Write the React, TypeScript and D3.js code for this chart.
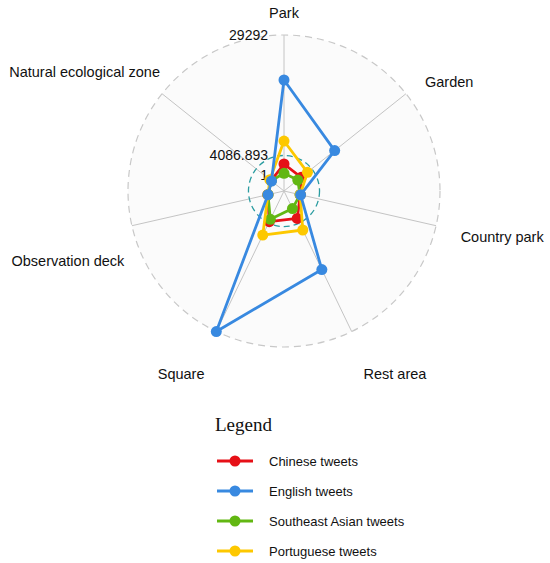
import React from 'react';
import * as d3 from 'd3';

const categories = ['Park', 'Garden', 'Country park', 'Rest area', 'Square', 'Observation deck', 'Natural ecological zone'];

const chineseTweets = [2300, 1255, 150, 3030, 3770, 120, 100];
const englishTweets = [19876, 10210, 210, 14900, 29292, 85, 1];
const southeastAsianTweets = [355, 335, 100, 730, 3240, 90, 80];
const portugueseTweets = [7110, 2930, 120, 5710, 6900, 90, 450];

const seriesNames = ['Chinese tweets', 'English tweets', 'Southeast Asian tweets', 'Portuguese tweets'];
const tickValues = [1, 4086.893, 29292];
const tickLabels = ['1', '4086.893', '29292'];
const meanValue = 4086.893;

const colors = ['#e61017', '#3889e0', '#62b712', '#fdc800'];

// nudges for category labels (dx, dy) off the base position
const labelNudge: [number, number][] = [
  [0, -4], [5, -1], [7, 7], [4, 26], [-4, 26], [10, 31], [12, -11],
];

const W = 550;
const H = 563;
const cx = 284;
const cy = 191;
const R = 156;
const R0 = 16;
const font = 'Arial, "Liberation Sans", Helvetica, sans-serif';

export default function App() {
  const data = [chineseTweets, englishTweets, southeastAsianTweets, portugueseTweets];
  const n = categories.length;

  const angle = d3.scaleLinear().domain([0, n]).range([0, 2 * Math.PI]);
  const r = d3.scaleLinear().domain([1, 29292]).range([R0, R]);

  const pt = (i: number, radius: number) => {
    const a = angle(i);
    return [cx + radius * Math.sin(a), cy - radius * Math.cos(a)];
  };

  const line = d3
    .lineRadial<number>()
    .angle((_, i) => angle(i))
    .radius((d) => r(d))
    .curve(d3.curveLinearClosed);

  // blue on top
  const drawOrder = [0, 2, 3, 1];

  return (
    <div>
      <style>{'body{margin:0}'}</style>
      <svg width={W} height={H} style={{ display: 'block', background: '#fff' }}>
        <circle cx={cx} cy={cy} r={R} fill="#fbfbfb" />
        {categories.map((c, i) => {
          const [x, y] = pt(i, R);
          return <line key={c} x1={cx} y1={cy} x2={x} y2={y} stroke="#c4c4c4" strokeWidth={1} />;
        })}
        <circle cx={cx} cy={cy} r={R} fill="none" stroke="#c8c8c8" strokeWidth={1.2} strokeDasharray="7,5" />
        <circle cx={cx} cy={cy} r={r(meanValue)} fill="none" stroke="#2a9ca0" strokeWidth={1.3} strokeDasharray="6,4" />

        {tickValues.map((t, i) => (
          <text
            key={t}
            x={cx - 16}
            y={cy - r(t)}
            textAnchor="end"
            dominantBaseline="central"
            fontFamily={font}
            fontSize={14}
            fill="#111"
          >
            {tickLabels[i]}
          </text>
        ))}

        {categories.map((c, i) => {
          const [bx, by] = pt(i, R + 18);
          const [dx, dy] = labelNudge[i];
          const s = Math.sin(angle(i));
          const anchor = Math.abs(s) < 0.01 ? 'middle' : s > 0 ? 'start' : 'end';
          return (
            <text
              key={c}
              x={bx + dx}
              y={by + dy}
              textAnchor={anchor}
              dominantBaseline="central"
              fontFamily={font}
              fontSize={14.5}
              fill="#111"
            >
              {c}
            </text>
          );
        })}

        {drawOrder.map((si) => (
          <g key={seriesNames[si]} transform={`translate(${cx},${cy})`}>
            <path d={line(data[si]) || ''} fill="none" stroke={colors[si]} strokeWidth={2.8} strokeLinejoin="round" />
            {data[si].map((v, i) => {
              const a = angle(i);
              return (
                <circle key={i} cx={r(v) * Math.sin(a)} cy={-r(v) * Math.cos(a)} r={5.5} fill={colors[si]} />
              );
            })}
          </g>
        ))}

        <text x={215} y={431} fontFamily='"Liberation Serif", "Times New Roman", serif' fontSize={19} fill="#111">
          Legend
        </text>
        {seriesNames.map((name, i) => {
          const y = 461 + i * 30;
          return (
            <g key={name}>
              <line x1={217} x2={253} y1={y} y2={y} stroke={colors[i]} strokeWidth={2.8} />
              <circle cx={235} cy={y} r={5.5} fill={colors[i]} />
              <text x={269} y={y} dominantBaseline="central" fontFamily={font} fontSize={13} fill="#111">
                {name}
              </text>
            </g>
          );
        })}
      </svg>
    </div>
  );
}
